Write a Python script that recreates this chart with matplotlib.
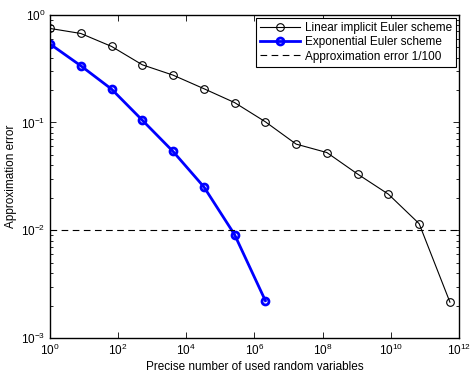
import numpy as np
import matplotlib
matplotlib.use("Agg")
import matplotlib.pyplot as plt
from matplotlib.ticker import LogLocator, NullLocator, NullFormatter

plt.rcParams['font.family'] = ['Liberation Sans', 'DejaVu Sans']
plt.rcParams['mathtext.fontset'] = 'custom'
plt.rcParams['mathtext.rm'] = 'Liberation Sans'
plt.rcParams['mathtext.it'] = 'Liberation Sans'

# Data
implicit_x = [8.0**k for k in range(14)]
implicit_err = [0.746, 0.67, 0.508, 0.343, 0.275, 0.206, 0.153, 0.1015,
                0.063, 0.0526, 0.0332, 0.0216, 0.0115, 0.00215]
expo_x = [8.0**k for k in range(9)]
expo_err = [0.535, 0.336, 0.204, 0.105, 0.0538, 0.0253, 0.0091, 0.00222]
expo_x = expo_x[:len(expo_err)]
threshold = 0.01
x_limits = [1e0, 1e12]
y_limits = [1e-3, 1e0]

labels = ['Linear implicit Euler scheme', 'Exponential Euler scheme',
          'Approximation error 1/100']

fig = plt.figure(figsize=(4.72, 3.72), dpi=100)
ax = fig.add_axes([0.106, 0.0914, 0.866, 0.869])

ax.loglog(implicit_x, implicit_err, '-o', color='black', lw=0.8,
          markersize=5.5, markerfacecolor='none', markeredgewidth=0.8,
          label=labels[0])
ax.loglog(expo_x, expo_err, '-o', color='blue', lw=2,
          markersize=5, markerfacecolor='none', markeredgewidth=2,
          label=labels[1])
ax.plot(x_limits, [threshold, threshold], '--', color='black', lw=0.8,
        dashes=(6, 4), label=labels[2])

ax.set_xlim(*x_limits)
ax.set_ylim(*y_limits)

ax.set_xticks([10.0**k for k in range(0, 13, 2)])
ax.xaxis.set_minor_locator(NullLocator())
ax.yaxis.set_minor_locator(LogLocator(base=10, subs=np.arange(2, 10), numticks=20))
ax.yaxis.set_minor_formatter(NullFormatter())

ax.tick_params(which='both', direction='in', top=True, right=True,
               labelsize=8.5, width=0.6)
ax.tick_params(which='major', length=4)
ax.tick_params(which='minor', length=2)
for s in ax.spines.values():
    s.set_linewidth(1.0)

ax.set_xlabel('Precise number of used random variables', fontsize=8.5, labelpad=2)
ax.set_ylabel('Approximation error', fontsize=8.5, labelpad=3)

leg = ax.legend(loc='upper right', fontsize=8.5, frameon=True, fancybox=False,
                edgecolor='black', framealpha=1, borderpad=0.35,
                labelspacing=0.2, handlelength=3.4, handletextpad=0.4,
                borderaxespad=0.25)
leg.get_frame().set_linewidth(0.8)

fig.savefig('out.png', dpi=100)
